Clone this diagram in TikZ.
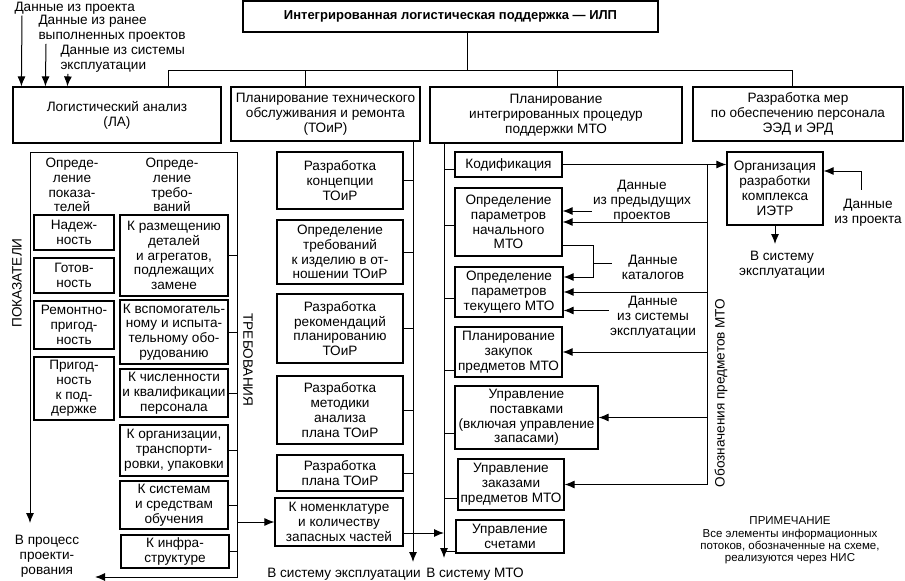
\documentclass[tikz,border=0pt]{standalone}
\usepackage{fontspec}
\setmainfont{Liberation Sans}
\usetikzlibrary{calc}
\usetikzlibrary{arrows.meta}
\begin{document}
\begin{tikzpicture}[x=1pt,y=-1pt,line width=1pt,font=\fontsize{13.6}{14.8}\selectfont]
\tikzset{box/.style={shape=rectangle, draw=black, align=center, line width=1.2pt, inner sep=1pt}}
\tikzset{thick box/.style={box, line width=2pt}}
\tikzset{wh/.style 2 args={minimum width=#1, minimum height=#2}}
\tikzset{note/.style={align=center, inner sep=1pt}}
\tikzset{flow/.style={-{Latex[length=10pt,width=8pt]}}}
\useasboundingbox (0,0) rectangle (905,581);
\node[box, wh={415}{31}, font=\fontsize{13}{14}\selectfont\bfseries] (ilp) at (450.5,16.5) {Интегрированная логистическая поддержка — ИЛП};
\node[box, wh={208}{56}] (la) at (117,115) {Логистический анализ\\(ЛА)};
\node[box, wh={189}{54}] (toir) at (325.5,114) {Планирование технического\\обслуживания и ремонта\\(ТОиР)};
\node[box, wh={252}{56}] (mto) at (556,115) {Планирование\\интегрированных процедур\\поддержки МТО};
\node[box, wh={210}{54}] (eed) at (798,114) {Разработка мер\\по обеспечению персонала\\ЭЭД и ЭРД};
\coordinate (bus) at (467,70);
\coordinate (b1) at (168,70);
\coordinate (b2) at (305,70);
\coordinate (b3) at (557,70);
\coordinate (b4) at (792,70);
\draw (ilp.south -| bus) -- (bus);
\draw (la.north -| b1) -- (b1) -- (b4) -- (eed.north -| b4);
\draw (toir.north -| b2) -- (b2);
\draw (mto.north -| b3) -- (b3);
\node[note, anchor=west] (dp1) at (13,8) {Данные из проекта};
\node[note, anchor=north west, align=left] (dp2) at (37,14) {Данные из ранее\\выполненных проектов};
\node[note, anchor=north west, align=left] (dp3) at (59,44) {Данные из системы\\эксплуатации};
\draw[flow] ($(dp1.south west)+(9,0)$) -- ($(la.north west)+(9,0)$);
\draw[flow] ($(dp2.south west)+(9,0)$) -- ($(la.north west)+(33,0)$);
\draw[flow] ($(dp3.south west)+(9,0)$) -- ($(la.north west)+(55,0)$);
\coordinate (pok) at (30,152);
\coordinate (treb) at (237,152);
\coordinate (pokend) at (30,523);
\coordinate (trebend) at (237,577);
\coordinate (procend) at (95,577);
\draw[flow] (treb) -- (pok) -- (pokend);
\draw[flow] (treb) -- (trebend) -- (procend);
\node[rotate=90] (pokaz) at (17,283) {ПОКАЗАТЕЛИ};
\node[rotate=-90] (trebov) at (248,360) {ТРЕБОВАНИЯ};
\node[note] (proc) at (47,556) {В процесс\\проекти-\\рования};
\node[note] (hpok) at (72,185) {Опреде-\\ление\\показа-\\телей};
\node[note] (htreb) at (172,185) {Опреде-\\ление\\требо-\\ваний};
\node[box, wh={80}{35}] (nadezh) at (74,232.5) {Надеж-\\ность};
\node[thick box, wh={80}{35}] (gotov) at (74,275.5) {Готов-\\ность};
\node[box, wh={80}{48}] (remont) at (74,325) {Ремонтно-\\пригод-\\ность};
\node[box, wh={80}{63}] (prigod) at (74,388.5) {Пригод-\\ность\\к под-\\держке};
\node[box, wh={108}{81}] (razm) at (174,255.5) {К размещению\\деталей\\и агрегатов,\\подлежащих\\замене};
\node[box, wh={108}{64}] (vspom) at (174,332) {К вспомогатель-\\ному и испыта-\\тельному обо-\\рудованию};
\node[thick box, wh={108}{48}] (chisl) at (174,393) {К численности\\и квалификации\\персонала};
\node[box, wh={108}{51}] (organ) at (174,450.5) {К организации,\\транспорти-\\ровки, упаковки};
\node[thick box, wh={108}{48}] (obuch) at (174,505) {К системам\\и средствам\\обучения};
\node[box, wh={108}{33}] (infra) at (175,551.5) {К инфра-\\структуре};
\foreach \n in {razm,vspom,chisl,organ,obuch,infra} \draw (\n.east) -- (\n.east -| treb);
\coordinate (tline) at (413,0);
\coordinate (tend) at (413,562);
\draw[flow] (toir.south -| tline) -- (tend);
\node[box, wh={126}{57}] (konc) at (340,180.5) {Разработка\\концепции\\ТОиР};
\node[box, wh={126}{64}] (trizd) at (340,252) {Определение\\требований\\к изделию в от-\\ношении ТОиР};
\node[thick box, wh={126}{69}] (rekom) at (340,328.5) {Разработка\\рекомендаций\\планированию\\ТОиР};
\node[box, wh={126}{68}] (metod) at (340,410) {Разработка\\методики\\анализа\\плана ТОиР};
\node[box, wh={126}{36}] (plan) at (340,473) {Разработка\\плана ТОиР};
\node[box, wh={128}{48}] (nomen) at (339,522) {К номенклатуре\\и количеству\\запасных частей};
\foreach \n in {konc,trizd,rekom,metod,plan} \draw (\n.east) -- (\n.east -| tline);
\node[note] (vexpl) at (344,574) {В систему эксплуатации};
\coordinate (mline) at (444,0);
\coordinate (mend) at (444,558);
\draw[flow] (mto.south -| mline) -- (mend);
\draw[flow] (nomen.west -| treb) -- (nomen.west);
\path ($(nomen.east)+(0,11)$) coordinate (nomout);
\draw[flow] (nomout) -- (nomout -| mline);
\node[note] (vmto) at (475,574) {В систему МТО};
\node[box, wh={107}{25}] (kod) at (508.5,164.5) {Кодификация};
\node[box, wh={107}{68}] (nach) at (508.5,222) {Определение\\параметров\\начального\\МТО};
\node[box, wh={108}{50}] (tek) at (509,292) {Определение\\параметров\\текущего МТО};
\node[box, wh={107}{50}] (zak) at (508.5,352) {Планирование\\закупок\\предметов МТО};
\node[box, wh={143}{63}] (post) at (526.5,417.5) {Управление\\поставками\\(включая управление\\запасами)};
\node[box, wh={106}{51}] (zakaz) at (511,484.5) {Управление\\заказами\\предметов МТО};
\node[thick box, wh={108}{33}] (schet) at (510,536.5) {Управление\\счетами};
\foreach \n/\d in {kod/5,nach/3,tek/6,zak/18,post/16,zakaz/14,schet/15} {
  \path ($(\n.west)+(0,\d)$) coordinate (c);
  \draw (c) -- (c -| mline);
}
\node[box, wh={96}{73}] (ietr) at (775,188.5) {Организация\\разработки\\комплекса\\ИЭТР};
\draw[flow] (kod.east) -- (kod.east -| ietr.west);
\coordinate (oboz) at (707,0);
\draw (kod.east -| oboz) -- (zakaz.east -| oboz);
\foreach \n in {nach,tek,zak,post,zakaz} \draw[flow] (\n.east -| oboz) -- (\n.east);
\node[rotate=90] (obozl) at (721,393) {Обозначения предметов МТО};
\node[note] (dpred) at (642,201) {Данные\\из предыдущих\\проектов};
\path ($(dpred.west)+(0,10)$) coordinate (a);
\draw[flow] (a) -- (a -| nach.east);
\node[note] (dkat) at (653,267.5) {Данные\\каталогов};
\coordinate (kb) at (593,263);
\draw[shorten >=8pt] (kb) -- (kb -| dkat.west);
\draw[flow] ($(nach.east)+(0,23)$) -| ($(kb)+(0,14)$) -- ($(tek.east)+(0,-15)$);
\node[note] (deks) at (653,317.5) {Данные\\из системы\\эксплуатации};
\path ($(deks.west)+(0,-7)$) coordinate (e);
\draw[flow] (e) -- (e -| tek.east);
\node[note] (dproj) at (868,212.5) {Данные\\из проекта};
\draw[flow] ($(dproj.north)+(-7,-8)$) |- ($(ietr.east)+(0,-17.5)$);
\node[note] (vsys) at (782,265) {В систему\\эксплуатации};
\draw[flow, shorten >=6pt] (ietr.south) -- (ietr.south |- vsys.north);
\node[note, font=\fontsize{11.5}{12.3}\selectfont] (prim) at (790,540.5) {ПРИМЕЧАНИЕ\\Все элементы информационных\\потоков, обозначенные на схеме,\\реализуются через НИС};
\end{tikzpicture}
\end{document}
